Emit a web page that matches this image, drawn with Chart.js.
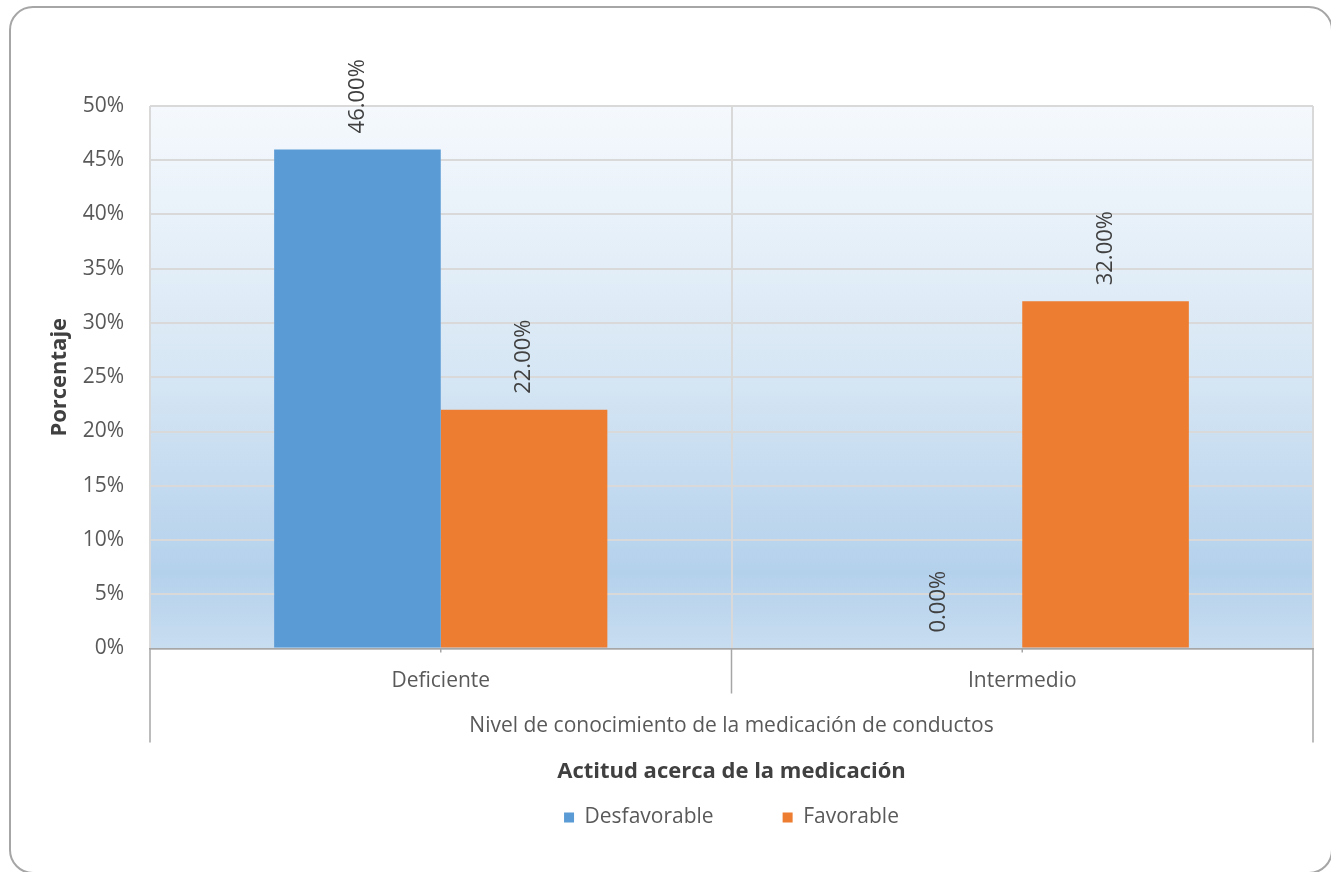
<!DOCTYPE html>
<html>
<head>
<meta charset="utf-8">
<script src="https://cdn.jsdelivr.net/npm/chart.js@4.4.1/dist/chart.umd.min.js"></script>
<style>
  html, body { margin: 0; padding: 0; background: #ffffff; }
  #wrap { position: relative; width: 1331px; height: 872px; overflow: hidden; }
  #frame { position: absolute; left: 9px; top: 6px; width: 1324px; height: 868px; border: 2px solid #a6a6a6; border-radius: 24px; box-sizing: border-box; }
  canvas { position: absolute; left: 0; top: 0; }
</style>
</head>
<body>
<div id="wrap">
  <div id="frame"></div>
  <canvas id="c" width="1331" height="872"></canvas>
</div>
<script>
const categories = ['Deficiente', 'Intermedio'];
const seriesNames = ['Desfavorable', 'Favorable'];
const desfavorable = [46, 0];
const favorable = [22, 32];
const yTicks = [0, 5, 10, 15, 20, 25, 30, 35, 40, 45, 50];
const xAxisTitle = 'Nivel de conocimiento de la medicación de conductos';
const legendTitle = 'Actitud acerca de la medicación';
const yAxisTitle = 'Porcentaje';

const FONT = "'Open Sans', sans-serif";
const TXT = '#595959';

const bgPlugin = {
  id: 'bgPlugin',
  beforeDraw(chart) {
    const {ctx, chartArea: a} = chart;
    const g = ctx.createLinearGradient(0, a.top, 0, a.bottom);
    g.addColorStop(0, '#f5f9fd');
    g.addColorStop(0.5, '#d6e6f4');
    g.addColorStop(0.86, '#b4d1ec');
    g.addColorStop(1, '#c8ddf0');
    ctx.save();
    ctx.fillStyle = g;
    ctx.fillRect(a.left, a.top, a.right - a.left, a.bottom - a.top);
    ctx.restore();
  }
};

const labelPlugin = {
  id: 'labelPlugin',
  afterDatasetsDraw(chart) {
    const {ctx} = chart;
    ctx.save();
    ctx.font = "22px " + FONT;
    ctx.fillStyle = '#404040';
    ctx.textAlign = 'left';
    ctx.textBaseline = 'middle';
    chart.data.datasets.forEach((ds, di) => {
      const meta = chart.getDatasetMeta(di);
      meta.data.forEach((el, i) => {
        const v = ds.data[i];
        ctx.save();
        ctx.translate(el.x, el.y - 16);
        ctx.rotate(-Math.PI / 2);
        ctx.fillText(v.toFixed(2) + '%', 0, 0);
        ctx.restore();
      });
    });
    ctx.restore();
  }
};

const axisExtPlugin = {
  id: 'axisExtPlugin',
  afterDraw(chart) {
    const {ctx} = chart;
    const xs = chart.scales.x;
    const a = chart.chartArea;
    const p0 = xs.getPixelForValue(0), p1 = xs.getPixelForValue(1);
    const mid = (p0 + p1) / 2;
    ctx.save();
    ctx.strokeStyle = '#a6a6a6';
    ctx.lineWidth = 1.5;
    ctx.beginPath();
    ctx.moveTo(xs.left, a.bottom); ctx.lineTo(xs.left, a.bottom + 94);
    ctx.moveTo(xs.right, a.bottom); ctx.lineTo(xs.right, a.bottom + 94);
    ctx.moveTo(mid, a.bottom); ctx.lineTo(mid, a.bottom + 45);
    ctx.moveTo(p0, a.bottom); ctx.lineTo(p0, a.bottom + 4);
    ctx.moveTo(p1, a.bottom); ctx.lineTo(p1, a.bottom + 4);
    ctx.stroke();
    ctx.restore();
  }
};

new Chart(document.getElementById('c'), {
  type: 'bar',
  data: {
    labels: categories,
    datasets: [
      { label: seriesNames[0], data: desfavorable, backgroundColor: '#5b9bd5', borderWidth: 0 },
      { label: seriesNames[1], data: favorable, backgroundColor: '#ed7d31', borderWidth: 0 }
    ]
  },
  options: {
    responsive: false,
    animation: false,
    devicePixelRatio: 1,
    layout: { padding: { top: 106, right: 18, left: 0, bottom: 34 } },
    datasets: { bar: { categoryPercentage: 0.573, barPercentage: 1.0 } },
    scales: {
      x: {
        grid: { offset: true, color: '#d9d9d9', lineWidth: 2, drawTicks: false },
        border: { display: true, color: '#a6a6a6', width: 1.5 },
        ticks: { color: TXT, font: { family: FONT, size: 21 }, padding: 20 },
        title: { display: true, text: xAxisTitle, color: TXT, font: { family: FONT, size: 21 }, padding: { top: 0, bottom: 9.4 } },
        afterFit(scale) { scale.height = 100; }
      },
      y: {
        min: 0, max: 50,
        afterBuildTicks(scale) { scale.ticks = yTicks.map(v => ({ value: v })); },
        grid: { color: '#d9d9d9', lineWidth: 2, drawTicks: false },
        border: { display: false },
        ticks: { color: TXT, font: { family: FONT, size: 21 }, padding: 26, callback: v => v + '%' },
        title: { display: true, text: yAxisTitle, color: '#404040', font: { family: FONT, size: 22, weight: 'bold' }, padding: { top: 47, bottom: 0 } },
        afterFit(scale) { scale.width = 150; }
      }
    },
    plugins: {
      legend: {
        position: 'bottom',
        fullSize: false,
        labels: { boxWidth: 10, boxHeight: 10, padding: 69, color: TXT, font: { family: FONT, size: 21 } },
        title: { display: true, text: legendTitle, color: '#404040', font: { family: FONT, size: 22, weight: 'bold' }, padding: { top: 12, bottom: -48.9 } }
      },
      tooltip: { enabled: false }
    }
  },
  plugins: [bgPlugin, labelPlugin, axisExtPlugin]
});
</script>
</body>
</html>
